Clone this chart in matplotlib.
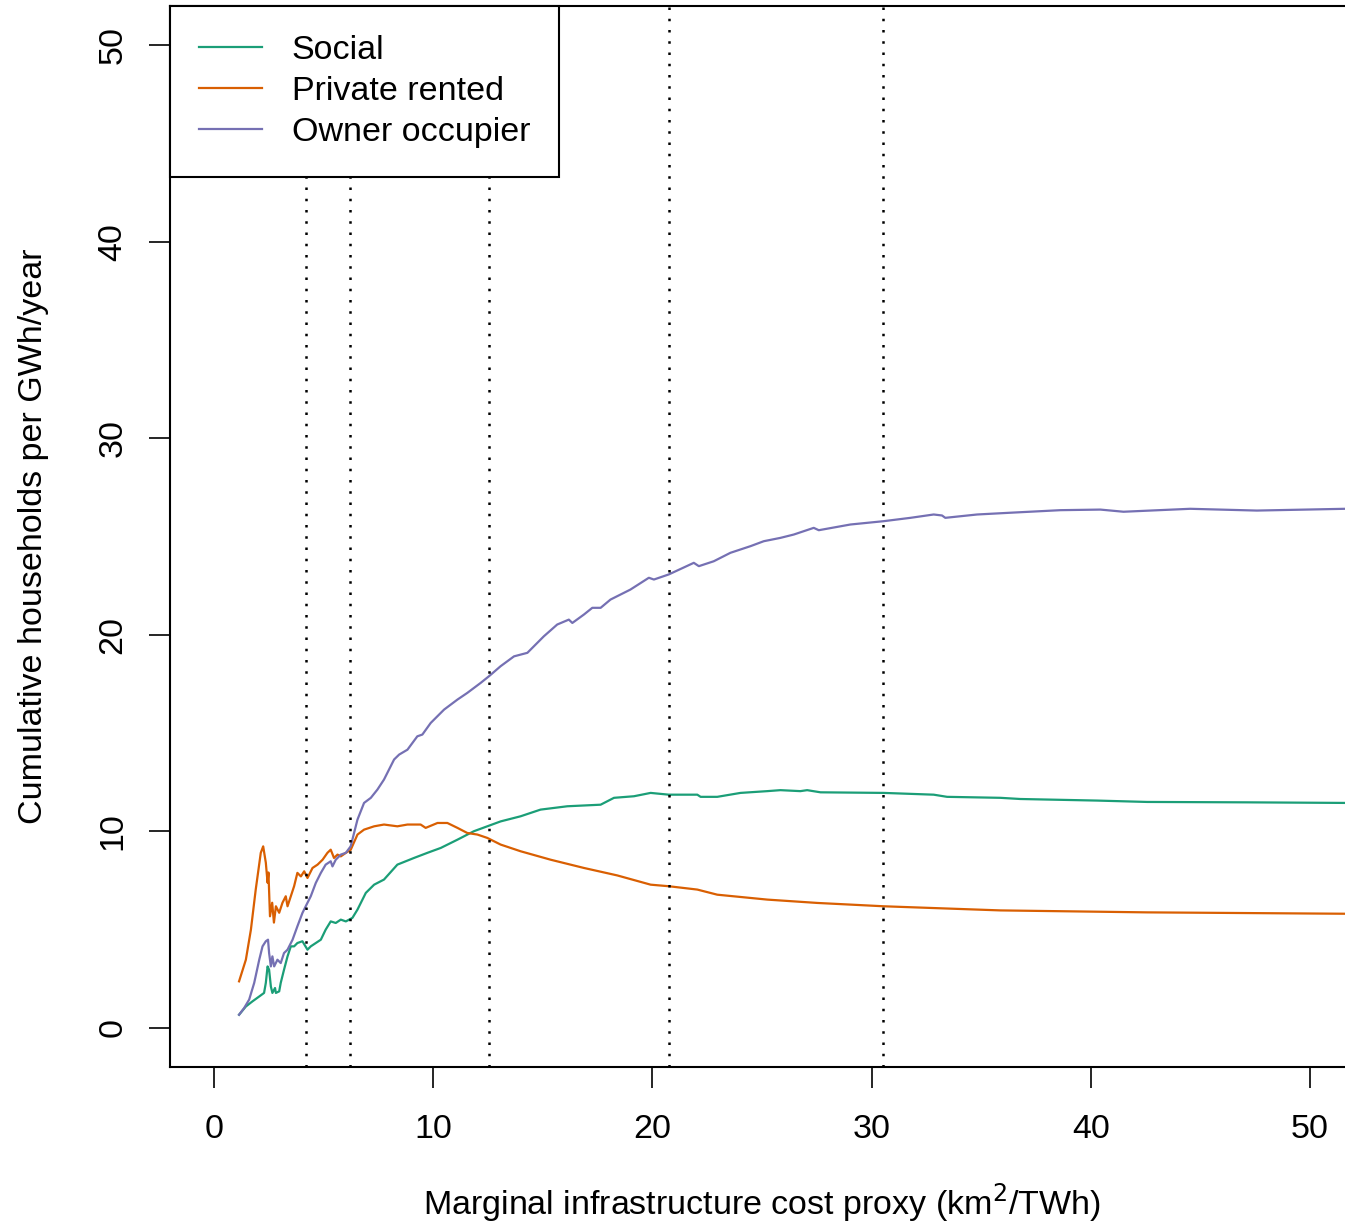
import numpy as np
import matplotlib
matplotlib.use("Agg")
import matplotlib.pyplot as plt

plt.rcParams['font.family'] = ['Liberation Sans', 'DejaVu Sans']

# cumulative households per GWh/year against marginal cost proxy
social_x = [1.15, 1.46, 1.76, 2.07, 2.29, 2.37, 2.45, 2.52, 2.60, 2.67, 2.79, 2.83,
            2.98, 3.05, 3.20, 3.36, 3.51, 3.66, 3.81, 4.04, 4.27, 4.42, 4.65, 4.88,
            5.10, 5.33, 5.56, 5.79, 6.02, 6.32, 6.55, 6.93, 7.31, 7.76, 8.37, 9.13,
            9.74, 10.35, 11.11, 11.86, 12.47, 13.08, 13.99, 14.90, 16.12, 17.64,
            18.25, 19.16, 19.92, 20.75, 21.44, 22.05, 22.20, 22.96, 24.02, 25.24,
            25.84, 26.75, 27.06, 27.67, 30.55, 32.83, 33.44, 35.87, 36.78, 40.28,
            42.56, 47.11, 51.60, 52.5]
social_y = [0.66, 1.08, 1.34, 1.59, 1.77, 2.28, 3.12, 2.95, 2.10, 1.77, 2.02, 1.77,
            1.85, 2.28, 2.95, 3.63, 4.14, 4.14, 4.31, 4.40, 3.97, 4.14, 4.31, 4.48,
            4.99, 5.41, 5.33, 5.50, 5.41, 5.59, 6.01, 6.86, 7.28, 7.54, 8.30, 8.64,
            8.90, 9.15, 9.57, 10.00, 10.25, 10.50, 10.76, 11.10, 11.27, 11.35,
            11.70, 11.78, 11.95, 11.86, 11.86, 11.86, 11.75, 11.75, 11.95, 12.04,
            12.09, 12.04, 12.09, 11.98, 11.95, 11.86, 11.75, 11.70, 11.64, 11.56,
            11.49, 11.47, 11.44, 11.44]

private_x = [1.15, 1.46, 1.69, 1.91, 2.14, 2.25, 2.37, 2.45, 2.49, 2.56, 2.66, 2.74,
             2.83, 2.98, 3.13, 3.28, 3.36, 3.51, 3.66, 3.81, 3.97, 4.12, 4.27, 4.50,
             4.73, 4.96, 5.18, 5.33, 5.48, 5.64, 5.79, 6.02, 6.24, 6.55, 6.85, 7.31,
             7.76, 8.37, 8.83, 9.43, 9.66, 10.20, 10.65, 11.11, 11.56, 12.02, 12.47,
             13.08, 13.99, 15.36, 16.88, 18.40, 19.92, 20.75, 22.05, 22.96, 25.24,
             27.52, 30.55, 32.83, 35.87, 42.56, 51.60, 52.5]
private_y = [2.36, 3.46, 4.99, 7.03, 8.90, 9.23, 8.40, 7.38, 7.90, 5.67, 6.36, 5.35,
             6.18, 5.85, 6.36, 6.69, 6.18, 6.69, 7.20, 7.88, 7.70, 7.96, 7.62, 8.13,
             8.30, 8.55, 8.90, 9.06, 8.64, 8.81, 8.72, 8.90, 9.05, 9.83, 10.08, 10.25,
             10.34, 10.25, 10.34, 10.34, 10.17, 10.42, 10.42, 10.17, 9.91, 9.83, 9.66,
             9.32, 8.98, 8.55, 8.13, 7.75, 7.28, 7.20, 7.03, 6.77, 6.52,
             6.35, 6.18, 6.09, 5.97, 5.87, 5.80, 5.80]

owner_x = [1.15, 1.38, 1.61, 1.84, 2.07, 2.22, 2.37, 2.47, 2.52, 2.60, 2.67, 2.75,
           2.90, 3.05, 3.20, 3.36, 3.59, 3.81, 4.04, 4.19, 4.42, 4.65, 4.88, 5.10,
           5.33, 5.41, 5.56, 5.79, 6.02, 6.24, 6.55, 6.85, 7.16, 7.46, 7.76, 8.22,
           8.45, 8.83, 9.28, 9.51, 9.89, 10.50, 11.11, 11.56, 12.17, 12.55, 13.08,
           13.69, 14.30, 15.05, 15.66, 16.19, 16.35, 16.88, 17.26, 17.64, 18.09,
           19.00, 19.84, 20.07, 20.75, 21.89, 22.12, 22.80, 23.56, 24.48, 25.08,
           25.84, 26.45, 27.36, 27.59, 29.03, 30.55, 31.77, 32.83, 33.21, 33.36,
           34.81, 36.33, 38.61, 40.43, 41.49, 44.53, 47.57, 51.60, 52.5]
owner_y = [0.66, 1.00, 1.43, 2.28, 3.46, 4.14, 4.40, 4.48, 3.80, 3.12, 3.63, 3.12,
           3.46, 3.29, 3.80, 3.97, 4.48, 5.16, 5.84, 6.18, 6.69, 7.37, 7.88, 8.30,
           8.47, 8.21, 8.55, 8.81, 8.90, 9.23, 10.59, 11.44, 11.70, 12.12, 12.63,
           13.65, 13.90, 14.15, 14.83, 14.92, 15.51, 16.19, 16.70, 17.04, 17.55,
           17.89, 18.40, 18.90, 19.08, 19.92, 20.52, 20.77, 20.60, 21.03, 21.37,
           21.37, 21.79, 22.30, 22.90, 22.81, 23.07, 23.66, 23.49, 23.74, 24.17,
           24.51, 24.76, 24.93, 25.10, 25.44, 25.32, 25.61, 25.78, 25.95, 26.12,
           26.07, 25.95, 26.12, 26.21, 26.34, 26.37, 26.26, 26.41, 26.32, 26.41, 26.41]

breaks = [4.19, 6.20, 12.53, 20.74, 30.54]

labels = ["Social", "Private rented", "Owner occupier"]
colors = ["#1B9E77", "#D95F02", "#7570B3"]

fig = plt.figure(figsize=(13.45, 12.29), dpi=100)
ax = fig.add_axes([170 / 1345, 162 / 1229, 1184 / 1345, 1061 / 1229])

series = [(social_x, social_y), (private_x, private_y), (owner_x, owner_y)]
for (xs, ys), lab, col in zip(series, labels, colors):
    ax.plot(xs, ys, color=col, lw=1.6, label=lab)

for b in breaks:
    ax.axvline(b, color="black", lw=1.8, linestyle=(0, (1, 3.5)))

ax.set_xlim(-2, 52)
ax.set_ylim(-2, 52)
ax.set_xticks(np.arange(0, 51, 10))
ax.set_yticks(np.arange(0, 51, 10))
ax.tick_params(axis="both", direction="out", length=15, width=1.2,
               labelsize=24.5)
ax.tick_params(axis="x", pad=19)
ax.tick_params(axis="y", pad=15)
for lbl in ax.get_yticklabels():
    lbl.set_rotation(90)
    lbl.set_va("center")
for side in ["left", "top", "bottom", "right"]:
    ax.spines[side].set_linewidth(1.5)

ax.set_xlabel("Marginal infrastructure cost proxy (km$^2$/TWh)", fontsize=24.5,
              labelpad=26)
ax.set_ylabel("Cumulative households per GWh/year", fontsize=24.5, labelpad=35)

leg = ax.legend(loc="upper left", bbox_to_anchor=(0, 1), borderaxespad=0,
                fontsize=24.5, fancybox=False, framealpha=1, edgecolor="black",
                handlelength=1.85, handletextpad=0.88, labelspacing=0.3,
                borderpad=0.85)
leg.get_frame().set_linewidth(1.5)

fig.savefig("out.png", dpi=100)
